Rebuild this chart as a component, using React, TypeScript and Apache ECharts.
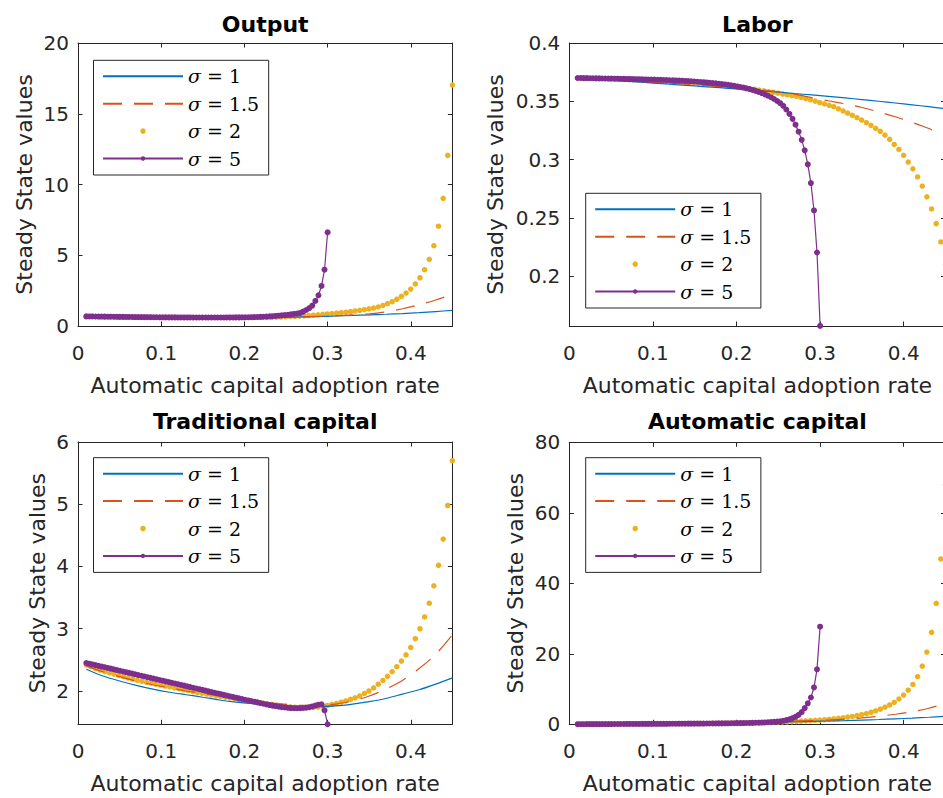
import React, { useEffect, useRef } from 'react';
import * as echarts from 'echarts';

// ---------- sample grids (adoption rate) ----------
const X30 = [
  0.0100, 0.0137, 0.0173, 0.0210, 0.0247, 0.0284, 0.0320, 0.0357, 0.0394, 0.0430,
  0.0467, 0.0504, 0.0541, 0.0577, 0.0614, 0.0651, 0.0687, 0.0724, 0.0761, 0.0797,
  0.0834, 0.0871, 0.0908, 0.0944, 0.0981, 0.1018, 0.1054, 0.1091, 0.1128, 0.1165,
  0.1201, 0.1238, 0.1275, 0.1311, 0.1348, 0.1385, 0.1422, 0.1458, 0.1495, 0.1532,
  0.1568, 0.1605, 0.1642, 0.1678, 0.1715, 0.1752, 0.1789, 0.1825, 0.1862, 0.1899,
  0.1935, 0.1972, 0.2009, 0.2046, 0.2082, 0.2119, 0.2156, 0.2192, 0.2229, 0.2266,
  0.2303, 0.2339, 0.2376, 0.2413, 0.2449, 0.2486, 0.2523, 0.2559, 0.2596, 0.2633,
  0.2670, 0.2706, 0.2743, 0.2780, 0.2816, 0.2853, 0.2890, 0.2927, 0.2963, 0.3000,
];
const X45 = [
  0.0100, 0.0156, 0.0211, 0.0267, 0.0323, 0.0378, 0.0434, 0.0490, 0.0546, 0.0601,
  0.0657, 0.0713, 0.0768, 0.0824, 0.0880, 0.0935, 0.0991, 0.1047, 0.1103, 0.1158,
  0.1214, 0.1270, 0.1325, 0.1381, 0.1437, 0.1492, 0.1548, 0.1604, 0.1659, 0.1715,
  0.1771, 0.1827, 0.1882, 0.1938, 0.1994, 0.2049, 0.2105, 0.2161, 0.2216, 0.2272,
  0.2328, 0.2384, 0.2439, 0.2495, 0.2551, 0.2606, 0.2662, 0.2718, 0.2773, 0.2829,
  0.2885, 0.2941, 0.2996, 0.3052, 0.3108, 0.3163, 0.3219, 0.3275, 0.3330, 0.3386,
  0.3442, 0.3497, 0.3553, 0.3609, 0.3665, 0.3720, 0.3776, 0.3832, 0.3887, 0.3943,
  0.3999, 0.4054, 0.4110, 0.4166, 0.4222, 0.4277, 0.4333, 0.4389, 0.4444, 0.4500,
];
const XL = [0.01, 0.03, 0.05, 0.07, 0.09, 0.11, 0.13, 0.15, 0.17, 0.19, 0.21, 0.23, 0.25, 0.27, 0.29, 0.31, 0.33, 0.35, 0.37, 0.39, 0.41, 0.43, 0.45];

// ---------- Output ----------
const OUT_S1 = [0.65, 0.635, 0.62, 0.61, 0.60, 0.59, 0.585, 0.583, 0.583, 0.585, 0.59, 0.60, 0.615, 0.64, 0.67, 0.705, 0.745, 0.785, 0.83, 0.88, 0.94, 1.02, 1.11];
const OUT_S15 = [0.66, 0.645, 0.63, 0.62, 0.61, 0.60, 0.595, 0.59, 0.59, 0.59, 0.595, 0.605, 0.62, 0.645, 0.68, 0.72, 0.78, 0.86, 1.00, 1.22, 1.50, 1.84, 2.24];
const OUT_S2 = [
  0.67, 0.665, 0.66, 0.655, 0.65, 0.645, 0.64, 0.636, 0.632, 0.628,
  0.624, 0.62, 0.617, 0.614, 0.611, 0.608, 0.606, 0.604, 0.602, 0.600,
  0.598, 0.597, 0.596, 0.595, 0.594, 0.594, 0.594, 0.594, 0.594, 0.595,
  0.595, 0.596, 0.597, 0.598, 0.599, 0.600, 0.601, 0.603, 0.605, 0.607,
  0.612, 0.62, 0.635, 0.65, 0.665, 0.68, 0.70, 0.72, 0.74, 0.765,
  0.79, 0.82, 0.85, 0.88, 0.91, 0.94, 0.975, 1.015, 1.06, 1.105,
  1.155, 1.21, 1.27, 1.345, 1.455, 1.58, 1.72, 1.89, 2.10, 2.33,
  2.61, 2.97, 3.41, 3.98, 4.71, 5.68, 7.05, 9.02, 12.06, 17.03,
];
const OUT_S5 = [
  0.68, 0.677, 0.674, 0.671, 0.668, 0.665, 0.662, 0.659, 0.656, 0.653,
  0.65, 0.647, 0.644, 0.641, 0.638, 0.636, 0.633, 0.631, 0.628, 0.626,
  0.624, 0.622, 0.62, 0.618, 0.616, 0.614, 0.612, 0.611, 0.609, 0.608,
  0.607, 0.606, 0.605, 0.604, 0.603, 0.602, 0.601, 0.601, 0.60, 0.60,
  0.60, 0.60, 0.60, 0.601, 0.601, 0.602, 0.603, 0.604, 0.606, 0.608,
  0.61, 0.613, 0.616, 0.62, 0.625, 0.63, 0.637, 0.645, 0.655, 0.667,
  0.68, 0.695, 0.71, 0.73, 0.75, 0.77, 0.795, 0.825, 0.85, 0.885,
  0.925, 1.015, 1.13, 1.27, 1.44, 1.77, 2.17, 2.83, 3.98, 6.62,
];

// ---------- Labor ----------
const LAB_S1 = [0.3698, 0.3690, 0.3681, 0.3672, 0.3662, 0.3652, 0.3642, 0.3632, 0.3622, 0.3612, 0.3601, 0.3590, 0.3579, 0.3567, 0.3555, 0.3542, 0.3529, 0.3515, 0.3501, 0.3486, 0.3470, 0.3454, 0.3437];
const LAB_S15 = [0.3699, 0.3692, 0.3685, 0.3677, 0.3669, 0.3661, 0.3652, 0.3643, 0.3633, 0.3623, 0.3611, 0.3598, 0.3582, 0.3560, 0.3532, 0.3505, 0.3478, 0.3447, 0.3410, 0.3368, 0.3320, 0.3267, 0.3200];
const LAB_S2 = [
  0.3700, 0.3699, 0.3698, 0.3697, 0.3696, 0.3695, 0.3694, 0.3692, 0.3691, 0.3690,
  0.3688, 0.3687, 0.3685, 0.3684, 0.3682, 0.3680, 0.3678, 0.3676, 0.3674, 0.3672,
  0.3670, 0.3668, 0.3665, 0.3663, 0.3660, 0.3657, 0.3654, 0.3651, 0.3648, 0.3645,
  0.3641, 0.3637, 0.3633, 0.3629, 0.3625, 0.3620, 0.3615, 0.3610, 0.3604, 0.3597,
  0.3590, 0.3583, 0.3577, 0.3570, 0.3563, 0.3556, 0.3549, 0.3542, 0.3534, 0.3524,
  0.3513, 0.3502, 0.3490, 0.3478, 0.3466, 0.3454, 0.3436, 0.3418, 0.3399, 0.3380,
  0.3360, 0.3340, 0.3317, 0.3294, 0.3268, 0.3243, 0.3211, 0.3174, 0.3131, 0.3088,
  0.3038, 0.2980, 0.2922, 0.2852, 0.2774, 0.2682, 0.2578, 0.2452, 0.2295, 0.2100,
];
const LAB_S5 = [
  0.3700, 0.3700, 0.3699, 0.3699, 0.3698, 0.3698, 0.3697, 0.3697, 0.3696, 0.3696,
  0.3695, 0.3695, 0.3694, 0.3694, 0.3693, 0.3693, 0.3692, 0.3692, 0.3691, 0.3690,
  0.3690, 0.3689, 0.3688, 0.3687, 0.3687, 0.3686, 0.3685, 0.3684, 0.3683, 0.3682,
  0.3681, 0.3680, 0.3679, 0.3678, 0.3677, 0.3675, 0.3674, 0.3672, 0.3670, 0.3668,
  0.3666, 0.3664, 0.3662, 0.3659, 0.3657, 0.3654, 0.3651, 0.3648, 0.3645, 0.3641,
  0.3637, 0.3633, 0.3628, 0.3623, 0.3618, 0.3612, 0.3605, 0.3598, 0.3590, 0.3581,
  0.3571, 0.3560, 0.3548, 0.3535, 0.3520, 0.3503, 0.3484, 0.3462, 0.3430, 0.3392,
  0.3350, 0.3300, 0.3240, 0.3170, 0.3080, 0.2960, 0.2800, 0.2565, 0.2205, 0.1576,
];

// ---------- Traditional capital ----------
const TC_S1 = [2.35, 2.24, 2.16, 2.09, 2.03, 1.98, 1.94, 1.90, 1.855, 1.82, 1.795, 1.775, 1.76, 1.752, 1.752, 1.76, 1.79, 1.83, 1.88, 1.95, 2.02, 2.11, 2.21];
const TC_S15 = [2.40, 2.31, 2.23, 2.16, 2.10, 2.05, 2.00, 1.96, 1.92, 1.88, 1.84, 1.81, 1.785, 1.77, 1.77, 1.79, 1.84, 1.92, 2.03, 2.17, 2.36, 2.59, 2.90];
const TC_S2 = [
  2.42, 2.39, 2.36, 2.335, 2.31, 2.29, 2.27, 2.25, 2.23, 2.21,
  2.19, 2.17, 2.155, 2.14, 2.125, 2.11, 2.095, 2.08, 2.065, 2.05,
  2.035, 2.02, 2.005, 1.99, 1.975, 1.962, 1.949, 1.936, 1.923, 1.91,
  1.898, 1.886, 1.874, 1.862, 1.85, 1.839, 1.828, 1.817, 1.806, 1.796,
  1.784, 1.773, 1.763, 1.754, 1.746, 1.740, 1.735, 1.732, 1.732, 1.735,
  1.742, 1.753, 1.768, 1.785, 1.80, 1.82, 1.84, 1.865, 1.89, 1.92,
  1.96, 2.00, 2.05, 2.11, 2.17, 2.235, 2.31, 2.39, 2.48, 2.58,
  2.70, 2.84, 3.00, 3.19, 3.41, 3.69, 4.02, 4.44, 4.98, 5.70,
];
const TC_S5 = [
  2.450, 2.439, 2.427, 2.416, 2.404, 2.393, 2.382, 2.370, 2.359, 2.348,
  2.336, 2.325, 2.313, 2.302, 2.291, 2.279, 2.268, 2.256, 2.245, 2.234,
  2.222, 2.211, 2.200, 2.188, 2.177, 2.166, 2.154, 2.143, 2.131, 2.120,
  2.109, 2.097, 2.086, 2.074, 2.063, 2.052, 2.040, 2.029, 2.018, 2.006,
  1.995, 1.984, 1.972, 1.961, 1.950, 1.938, 1.927, 1.916, 1.904, 1.893,
  1.882, 1.871, 1.859, 1.848, 1.838, 1.828, 1.817, 1.806, 1.795, 1.784,
  1.774, 1.765, 1.756, 1.748, 1.741, 1.735, 1.730, 1.726, 1.724, 1.723,
  1.724, 1.727, 1.732, 1.740, 1.752, 1.766, 1.780, 1.786, 1.690, 1.466,
];

// ---------- Automatic capital ----------
const AUT_S1 = [0.02, 0.06, 0.10, 0.14, 0.18, 0.22, 0.27, 0.32, 0.37, 0.43, 0.49, 0.56, 0.64, 0.73, 0.83, 0.94, 1.06, 1.20, 1.36, 1.55, 1.76, 2.00, 2.30];
const AUT_S15 = [0.02, 0.06, 0.10, 0.14, 0.19, 0.24, 0.29, 0.35, 0.41, 0.48, 0.56, 0.65, 0.76, 0.88, 1.02, 1.20, 1.45, 1.82, 2.28, 2.85, 3.55, 4.55, 5.95];
const AUT_S2 = [
  0.03, 0.036, 0.042, 0.048, 0.054, 0.06, 0.066, 0.072, 0.078, 0.084,
  0.09, 0.097, 0.104, 0.111, 0.118, 0.125, 0.133, 0.141, 0.149, 0.157,
  0.165, 0.175, 0.185, 0.195, 0.205, 0.215, 0.228, 0.241, 0.254, 0.267,
  0.28, 0.295, 0.31, 0.33, 0.35, 0.37, 0.395, 0.42, 0.445, 0.475,
  0.505, 0.54, 0.58, 0.62, 0.66, 0.71, 0.77, 0.83, 0.90, 0.97,
  1.04, 1.12, 1.21, 1.31, 1.42, 1.55, 1.69, 1.85, 2.03, 2.24,
  2.48, 2.75, 3.06, 3.42, 3.83, 4.30, 4.84, 5.48, 6.24, 7.18,
  8.30, 9.68, 11.3, 13.55, 16.5, 20.5, 26.1, 34.3, 46.9, 68.0,
];
const AUT_S5 = [
  0.030, 0.034, 0.038, 0.042, 0.046, 0.050, 0.054, 0.058, 0.062, 0.066,
  0.070, 0.074, 0.078, 0.082, 0.086, 0.090, 0.094, 0.098, 0.102, 0.106,
  0.110, 0.114, 0.118, 0.122, 0.126, 0.130, 0.134, 0.138, 0.142, 0.146,
  0.150, 0.156, 0.162, 0.168, 0.174, 0.180, 0.186, 0.192, 0.198, 0.204,
  0.210, 0.218, 0.226, 0.234, 0.242, 0.250, 0.26, 0.27, 0.28, 0.29,
  0.30, 0.31, 0.325, 0.34, 0.355, 0.37, 0.39, 0.41, 0.435, 0.46,
  0.49, 0.53, 0.575, 0.62, 0.68, 0.76, 0.86, 0.99, 1.18, 1.42,
  1.73, 2.12, 2.68, 3.48, 4.60, 5.96, 7.60, 10.45, 15.6, 27.7,
];

// ---------- labels / ticks ----------
const SERIES_NAMES = ['σ = 1', 'σ = 1.5', 'σ = 2', 'σ = 5'];
const TITLES = ['Output', 'Labor', 'Traditional capital', 'Automatic capital'];
const X_TICKS = [0, 0.1, 0.2, 0.3, 0.4];
const Y_TICKS = [
  [0, 5, 10, 15, 20],
  [0.2, 0.25, 0.3, 0.35, 0.4],
  [2, 3, 4, 5, 6],
  [0, 20, 40, 60, 80],
];
const Y_RANGE = [
  [0, 20],
  [0.1575, 0.4],
  [1.465, 6],
  [0, 80],
];
const X_LABEL = 'Automatic capital adoption rate';
const Y_LABEL = 'Steady State values';

const DATA = [
  [OUT_S1, OUT_S15, OUT_S2, OUT_S5],
  [LAB_S1, LAB_S15, LAB_S2, LAB_S5],
  [TC_S1, TC_S15, TC_S2, TC_S5],
  [AUT_S1, AUT_S15, AUT_S2, AUT_S5],
];

// ---------- layout & style ----------
const COLORS = ['#0072BD', '#D95319', '#EDB120', '#7E2F8E'];
const AX = '#262626';
const SANS = 'DejaVu Sans';
const SERIF = 'DejaVu Serif';
const LAYOUT = [
  { left: 78, top: 43, width: 374.4, height: 283, lgLeft: 93.5, lgTop: 60.3, tx: 265.2, ty: 24, yGap: 43 },
  { left: 569.3, top: 43, width: 376.2, height: 283, lgLeft: 585.7, lgTop: 193.3, tx: 757.4, ty: 24, yGap: 63 },
  { left: 78, top: 442, width: 374.4, height: 282.3, lgLeft: 93.5, lgTop: 457.7, tx: 265.2, ty: 421.7, yGap: 30 },
  { left: 569.3, top: 442.3, width: 376.2, height: 282, lgLeft: 585.7, lgTop: 457.7, tx: 757.4, ty: 421.5, yGap: 43 },
];

function zip(xs: number[], ys: number[]) {
  return xs.map((x, i) => [x, ys[i]]);
}

function buildOption() {
  const grid: any[] = [];
  const xAxis: any[] = [];
  const yAxis: any[] = [];
  const series: any[] = [];
  const legend: any[] = [];
  const title: any[] = [];

  LAYOUT.forEach((L, p) => {
    grid.push({ left: L.left, top: L.top, width: L.width, height: L.height });
    const axisLine = { show: true, onZero: false, lineStyle: { color: AX, width: 1 } };
    const tickStyle = { color: AX, width: 1 };
    const labelStyle = { fontFamily: SANS, fontSize: 20, color: AX };
    const nameStyle = { fontFamily: SANS, fontSize: 22, color: AX };
    xAxis.push({
      gridIndex: p, type: 'value', min: 0, max: 0.45, position: 'bottom',
      axisLine, splitLine: { show: false },
      axisTick: { show: true, inside: true, length: 4.5, customValues: X_TICKS, lineStyle: tickStyle },
      axisLabel: { show: true, customValues: X_TICKS, margin: 17, ...labelStyle, formatter: (v: number) => String(v) },
      name: X_LABEL, nameLocation: 'middle', nameGap: 48.5, nameTextStyle: nameStyle, nameMoveOverlap: false,
    });
    xAxis.push({
      gridIndex: p, type: 'value', min: 0, max: 0.45, position: 'top',
      axisLine, splitLine: { show: false },
      axisTick: { show: true, inside: true, length: 4.5, customValues: X_TICKS, lineStyle: tickStyle },
      axisLabel: { show: false },
    });
    const [ymin, ymax] = Y_RANGE[p];
    yAxis.push({
      gridIndex: p, type: 'value', min: ymin, max: ymax, position: 'left',
      axisLine, splitLine: { show: false },
      axisTick: { show: true, inside: true, length: 4.5, customValues: Y_TICKS[p], lineStyle: tickStyle },
      axisLabel: { show: true, customValues: Y_TICKS[p], margin: 9, ...labelStyle, formatter: (v: number) => String(v) },
      name: Y_LABEL, nameLocation: 'middle', nameGap: L.yGap, nameTextStyle: nameStyle, nameMoveOverlap: false,
    });
    yAxis.push({
      gridIndex: p, type: 'value', min: ymin, max: ymax, position: 'right',
      axisLine, splitLine: { show: false },
      axisTick: { show: true, inside: true, length: 4.5, customValues: Y_TICKS[p], lineStyle: tickStyle },
      axisLabel: { show: false },
    });

    const [s1, s15, s2, s5] = DATA[p];
    const common = { xAxisIndex: 2 * p, yAxisIndex: 2 * p, silent: true, animation: false };
    series.push({
      ...common, type: 'line', name: SERIES_NAMES[0], data: zip(XL, s1), symbol: 'none',
      smooth: 0.3, lineStyle: { color: COLORS[0], width: 1.2 }, itemStyle: { color: COLORS[0] },
    });
    series.push({
      ...common, type: 'line', name: SERIES_NAMES[1], data: zip(XL, s15), symbol: 'none',
      smooth: 0.3, lineStyle: { color: COLORS[1], width: 1.2, type: [19, 12] }, itemStyle: { color: COLORS[1] },
    });
    series.push({
      ...common, type: 'scatter', name: SERIES_NAMES[2], data: zip(X45, s2), symbol: 'circle',
      symbolSize: 5.5, itemStyle: { color: COLORS[2], opacity: 1, borderWidth: 0 },
    });
    series.push({
      ...common, type: 'line', name: SERIES_NAMES[3], data: zip(X30, s5), symbol: 'circle',
      symbolSize: 6, showSymbol: true, lineStyle: { color: COLORS[3], width: 1.2 },
      itemStyle: { color: COLORS[3], borderWidth: 0 },
    });

    legend.push({
      orient: 'vertical', left: L.lgLeft, top: L.lgTop,
      padding: [6, 9.5, 6.5, 8.5], itemWidth: 80, itemHeight: 5.5, itemGap: 7.4,
      backgroundColor: '#ffffff', borderColor: AX, borderWidth: 1, borderRadius: 0,
      selectedMode: false,
      data: [
        { name: SERIES_NAMES[0], itemStyle: { opacity: 0 } },
        { name: SERIES_NAMES[1], itemStyle: { opacity: 0 } },
        { name: SERIES_NAMES[2] },
        { name: SERIES_NAMES[3] },
      ],
      formatter: (name: string) => `{s|σ} {e|=} {n|${name.split('= ')[1]}}`,
      textStyle: {
        fontFamily: SERIF, fontSize: 19, color: '#000', lineHeight: 20,
        rich: {
          s: { fontFamily: SERIF, fontStyle: 'italic', fontSize: 19, color: '#000', lineHeight: 20 },
          e: { fontFamily: SERIF, fontSize: 19, color: '#000', lineHeight: 20 },
          n: { fontFamily: SERIF, fontSize: 19, color: '#000', lineHeight: 20 },
        },
      },
    });

    title.push({
      text: TITLES[p], left: L.tx, top: L.ty, textAlign: 'center', textVerticalAlign: 'middle', padding: 0,
      textStyle: { fontFamily: SANS, fontSize: 22, fontWeight: 'bold', color: '#000' },
    });
  });

  return { animation: false, backgroundColor: '#ffffff', grid, xAxis, yAxis, series, legend, title };
}

export default function App() {
  const ref = useRef<HTMLDivElement>(null);
  useEffect(() => {
    if (!ref.current) return;
    const chart = echarts.init(ref.current, null, { renderer: 'svg' });
    chart.setOption(buildOption() as any);
    return () => chart.dispose();
  }, []);
  return (
    <div
      style={{ position: 'absolute', left: 0, top: 0, width: 943, height: 798, overflow: 'hidden', background: '#fff' }}
    >
      <div ref={ref} style={{ position: 'absolute', left: 0, top: 0, width: 960, height: 798 }} />
    </div>
  );
}
